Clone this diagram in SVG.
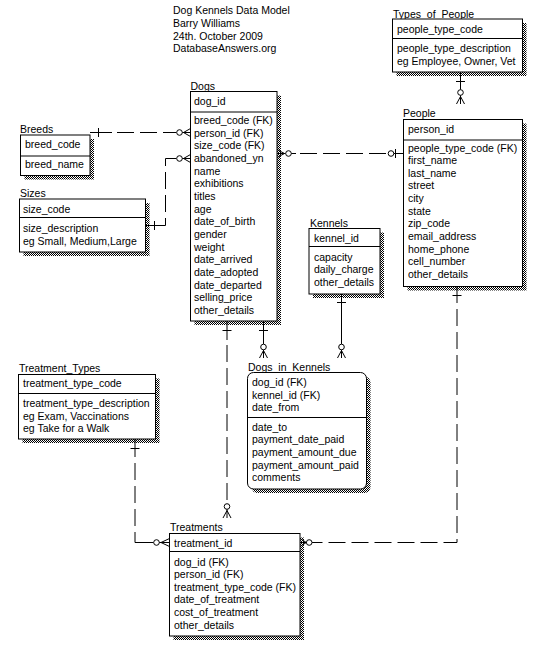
<svg xmlns="http://www.w3.org/2000/svg" width="558" height="652" viewBox="0 0 558 652">
<style>
.t{font-family:"Liberation Sans",Arial,sans-serif;font-size:10.5px;fill:#000}
.box{fill:#fff;stroke:#000;stroke-width:1}
.sh{fill:url(#hatch)}
.sep{stroke:#000;stroke-width:1}
.c{stroke:#000;stroke-width:1;fill:none}
.d{stroke-dasharray:17 6}
.o{fill:#fff;stroke:#000;stroke-width:1}
</style>
<defs>
<pattern id="hatch" width="2" height="2" patternUnits="userSpaceOnUse">
<rect width="2" height="2" fill="#fff"/>
<rect width="1" height="1" fill="#000"/>
<rect x="1" y="1" width="1" height="1" fill="#000"/>
</pattern>
</defs>
<rect width="558" height="652" fill="#fff"/>

<g id="title">
<text class="t" x="173" y="14">Dog Kennels Data Model</text>
<text class="t" x="173" y="27">Barry Williams</text>
<text class="t" x="173" y="39.5">24th. October 2009</text>
<text class="t" x="173" y="52">DatabaseAnswers.org</text>
</g>

<g id="Dogs">
<text class="t" x="190.5" y="90">Dogs</text>
<rect class="sh" x="194.5" y="95.5" width="86.5" height="229.5"/>
<rect class="box" x="190.5" y="91.5" width="86.5" height="229.5"/>
<line class="sep" x1="190.5" y1="112" x2="277" y2="112"/>
<text class="t" x="194" y="104.5">dog_id</text>
<text class="t" x="194" y="124">breed_code (FK)</text>
<text class="t" x="194" y="136.7">person_id (FK)</text>
<text class="t" x="194" y="149.3">size_code (FK)</text>
<text class="t" x="194" y="162">abandoned_yn</text>
<text class="t" x="194" y="174.6">name</text>
<text class="t" x="194" y="187.3">exhibitions</text>
<text class="t" x="194" y="199.9">titles</text>
<text class="t" x="194" y="212.6">age</text>
<text class="t" x="194" y="225.2">date_of_birth</text>
<text class="t" x="194" y="237.9">gender</text>
<text class="t" x="194" y="250.5">weight</text>
<text class="t" x="194" y="263.2">date_arrived</text>
<text class="t" x="194" y="275.8">date_adopted</text>
<text class="t" x="194" y="288.5">date_departed</text>
<text class="t" x="194" y="301.1">selling_price</text>
<text class="t" x="194" y="313.8">other_details</text>
</g>

<g id="Breeds">
<text class="t" x="20" y="133">Breeds</text>
<rect class="sh" x="24.5" y="139" width="69.5" height="40.5"/>
<rect class="box" x="20.5" y="135" width="69.5" height="40.5"/>
<line class="sep" x1="20.5" y1="156" x2="90" y2="156"/>
<text class="t" x="25" y="148">breed_code</text>
<text class="t" x="25" y="168">breed_name</text>
</g>

<g id="Sizes">
<text class="t" x="20" y="196.5">Sizes</text>
<rect class="sh" x="23.5" y="203" width="126" height="53"/>
<rect class="box" x="19.5" y="199" width="126" height="53"/>
<line class="sep" x1="19.5" y1="217.5" x2="145.5" y2="217.5"/>
<text class="t" x="23" y="213">size_code</text>
<text class="t" x="23" y="231.5">size_description</text>
<text class="t" x="23" y="244.5">eg Small, Medium,Large</text>
</g>

<g id="Types_of_People">
<text class="t" x="393" y="18">Types_of_People</text>
<rect class="sh" x="396.5" y="23" width="130" height="53"/>
<rect class="box" x="392.5" y="19" width="130" height="53"/>
<line class="sep" x1="392.5" y1="38.5" x2="522.5" y2="38.5"/>
<text class="t" x="397" y="33">people_type_code</text>
<text class="t" x="397" y="51.5">people_type_description</text>
<text class="t" x="397" y="65">eg Employee, Owner, Vet</text>
</g>

<g id="People">
<text class="t" x="403" y="116.5">People</text>
<rect class="sh" x="407.5" y="123.5" width="119" height="167"/>
<rect class="box" x="403.5" y="119.5" width="119" height="167"/>
<line class="sep" x1="403.5" y1="140" x2="522.5" y2="140"/>
<text class="t" x="408" y="133">person_id</text>
<text class="t" x="408" y="151.5">people_type_code (FK)</text>
<text class="t" x="408" y="164.1">first_name</text>
<text class="t" x="408" y="176.8">last_name</text>
<text class="t" x="408" y="189.4">street</text>
<text class="t" x="408" y="202.1">city</text>
<text class="t" x="408" y="214.7">state</text>
<text class="t" x="408" y="227.4">zip_code</text>
<text class="t" x="408" y="240">email_address</text>
<text class="t" x="408" y="252.7">home_phone</text>
<text class="t" x="408" y="265.3">cell_number</text>
<text class="t" x="408" y="278">other_details</text>
</g>

<g id="Kennels">
<text class="t" x="310" y="226.5">Kennels</text>
<rect class="sh" x="313" y="232.5" width="71" height="65.5"/>
<rect class="box" x="309" y="228.5" width="71" height="65.5"/>
<line class="sep" x1="309" y1="246.5" x2="380" y2="246.5"/>
<text class="t" x="314" y="241.5">kennel_id</text>
<text class="t" x="314" y="260.5">capacity</text>
<text class="t" x="314" y="273">daily_charge</text>
<text class="t" x="314" y="285.5">other_details</text>
</g>

<g id="Dogs_in_Kennels">
<text class="t" x="248" y="370.5">Dogs_in_Kennels</text>
<rect class="sh" x="251.5" y="376.5" width="119" height="116.5" rx="6"/>
<rect class="box" x="247.5" y="372.5" width="119" height="116.5" rx="6"/>
<line class="sep" x1="247.5" y1="417.5" x2="366.5" y2="417.5"/>
<text class="t" x="252" y="386">dog_id (FK)</text>
<text class="t" x="252" y="398.7">kennel_id (FK)</text>
<text class="t" x="252" y="411.3">date_from</text>
<text class="t" x="252" y="430.5">date_to</text>
<text class="t" x="252" y="443.2">payment_date_paid</text>
<text class="t" x="252" y="455.8">payment_amount_due</text>
<text class="t" x="252" y="468.5">payment_amount_paid</text>
<text class="t" x="252" y="481">comments</text>
</g>

<g id="Treatment_Types">
<text class="t" x="19" y="371.5">Treatment_Types</text>
<rect class="sh" x="22.5" y="378.5" width="137" height="64.5"/>
<rect class="box" x="18.5" y="374.5" width="137" height="64.5"/>
<line class="sep" x1="18.5" y1="393.5" x2="155.5" y2="393.5"/>
<text class="t" x="23" y="387">treatment_type_code</text>
<text class="t" x="23" y="406.5">treatment_type_description</text>
<text class="t" x="23" y="419.5">eg Exam, Vaccinations</text>
<text class="t" x="23" y="432">eg Take for a Walk</text>
</g>

<g id="Treatments">
<text class="t" x="170" y="530.5">Treatments</text>
<rect class="sh" x="173.5" y="537.5" width="130.5" height="102.5"/>
<rect class="box" x="169.5" y="533.5" width="130.5" height="102.5"/>
<line class="sep" x1="169.5" y1="551.5" x2="300" y2="551.5"/>
<text class="t" x="174" y="546.5">treatment_id</text>
<text class="t" x="174" y="565.5">dog_id (FK)</text>
<text class="t" x="174" y="578.1">person_id (FK)</text>
<text class="t" x="174" y="590.8">treatment_type_code (FK)</text>
<text class="t" x="174" y="603.4">date_of_treatment</text>
<text class="t" x="174" y="616.1">cost_of_treatment</text>
<text class="t" x="174" y="628.7">other_details</text>
</g>

<g id="connectors">
<!-- Breeds -> Dogs -->
<path class="c" d="M90,132.5 H112"/>
<path class="c d" d="M117,132.5 H176.5"/>
<path class="c" d="M98.5,128 V137"/>
<circle class="o" cx="179.5" cy="132.5" r="2.8"/>
<path class="c" d="M182.3,132.5 H190.5 M183.5,132.5 L190.5,128.5 M183.5,132.5 L190.5,136.5"/>
<!-- Sizes -> Dogs -->
<path class="c" d="M145.5,225.5 H165.5 V218"/>
<path class="c d" d="M165.5,212 V164"/>
<path class="c" d="M165.5,164 V158.5 H176.5"/>
<path class="c" d="M154.5,221 V230"/>
<circle class="o" cx="179.5" cy="158.5" r="2.8"/>
<path class="c" d="M182.3,158.5 H190.5 M183.5,158.5 L190.5,154.5 M183.5,158.5 L190.5,162.5"/>
<!-- Dogs -> People -->
<path class="c" d="M277,153.5 H285.7 M284.5,153.5 L277,149.5 M284.5,153.5 L277,157.5"/>
<circle class="o" cx="288.5" cy="153.5" r="2.8"/>
<path class="c" d="M291.3,153.5 H296"/>
<path class="c d" d="M300,153.5 H388"/>
<circle class="o" cx="391" cy="153.5" r="2.8"/>
<path class="c" d="M393.8,153.5 H403.5 M395.5,149 V158"/>
<!-- Types_of_People -> People -->
<path class="c" d="M460.5,72 V89.7 M456,81.5 H465"/>
<circle class="o" cx="460.5" cy="92.5" r="2.8"/>
<path class="c" d="M460.5,95.3 V104 M460.5,96.5 L456.5,104 M460.5,96.5 L464.5,104"/>
<!-- Dogs -> Dogs_in_Kennels -->
<path class="c" d="M263.5,321 V344.2 M259,330.5 H268"/>
<circle class="o" cx="263.5" cy="347" r="2.8"/>
<path class="c" d="M263.5,349.8 V358 M263.5,350.5 L259.5,358 M263.5,350.5 L267.5,358"/>
<!-- Kennels -> Dogs_in_Kennels -->
<path class="c" d="M341.5,294 V344.2 M337,302.5 H346"/>
<circle class="o" cx="341.5" cy="347" r="2.8"/>
<path class="c" d="M341.5,349.8 V358 M341.5,350.5 L337.5,358 M341.5,350.5 L345.5,358"/>
<!-- Dogs -> Treatments -->
<path class="c" d="M227,321 V340"/>
<path class="c d" d="M227,345 V503.7"/>
<path class="c" d="M222.5,330.5 H231.5"/>
<circle class="o" cx="227" cy="506.5" r="2.8"/>
<path class="c" d="M227,509.3 V518 M227,510.5 L223,518 M227,510.5 L231,518"/>
<!-- Treatment_Types -> Treatments -->
<path class="c" d="M135,439 V457"/>
<path class="c d" d="M135,463 V536"/>
<path class="c" d="M135,536 V542.5 H153.7 M130.5,448.5 H139.5"/>
<circle class="o" cx="156.5" cy="542.5" r="2.8"/>
<path class="c" d="M159.3,542.5 H169.5 M161,542.5 L169.5,538.5 M161,542.5 L169.5,546.5"/>
<!-- People -> Treatments -->
<path class="c" d="M457,286.5 V303 M452.5,295.5 H461.5"/>
<path class="c d" d="M457,309 V542.5 H314"/>
<path class="c" d="M312,542.5 H316"/>
<circle class="o" cx="309.2" cy="542.5" r="2.8"/>
<path class="c" d="M300,542.5 H306.4 M306.4,542.5 L300,538.5 M306.4,542.5 L300,546.5"/>
</g>
</svg>
